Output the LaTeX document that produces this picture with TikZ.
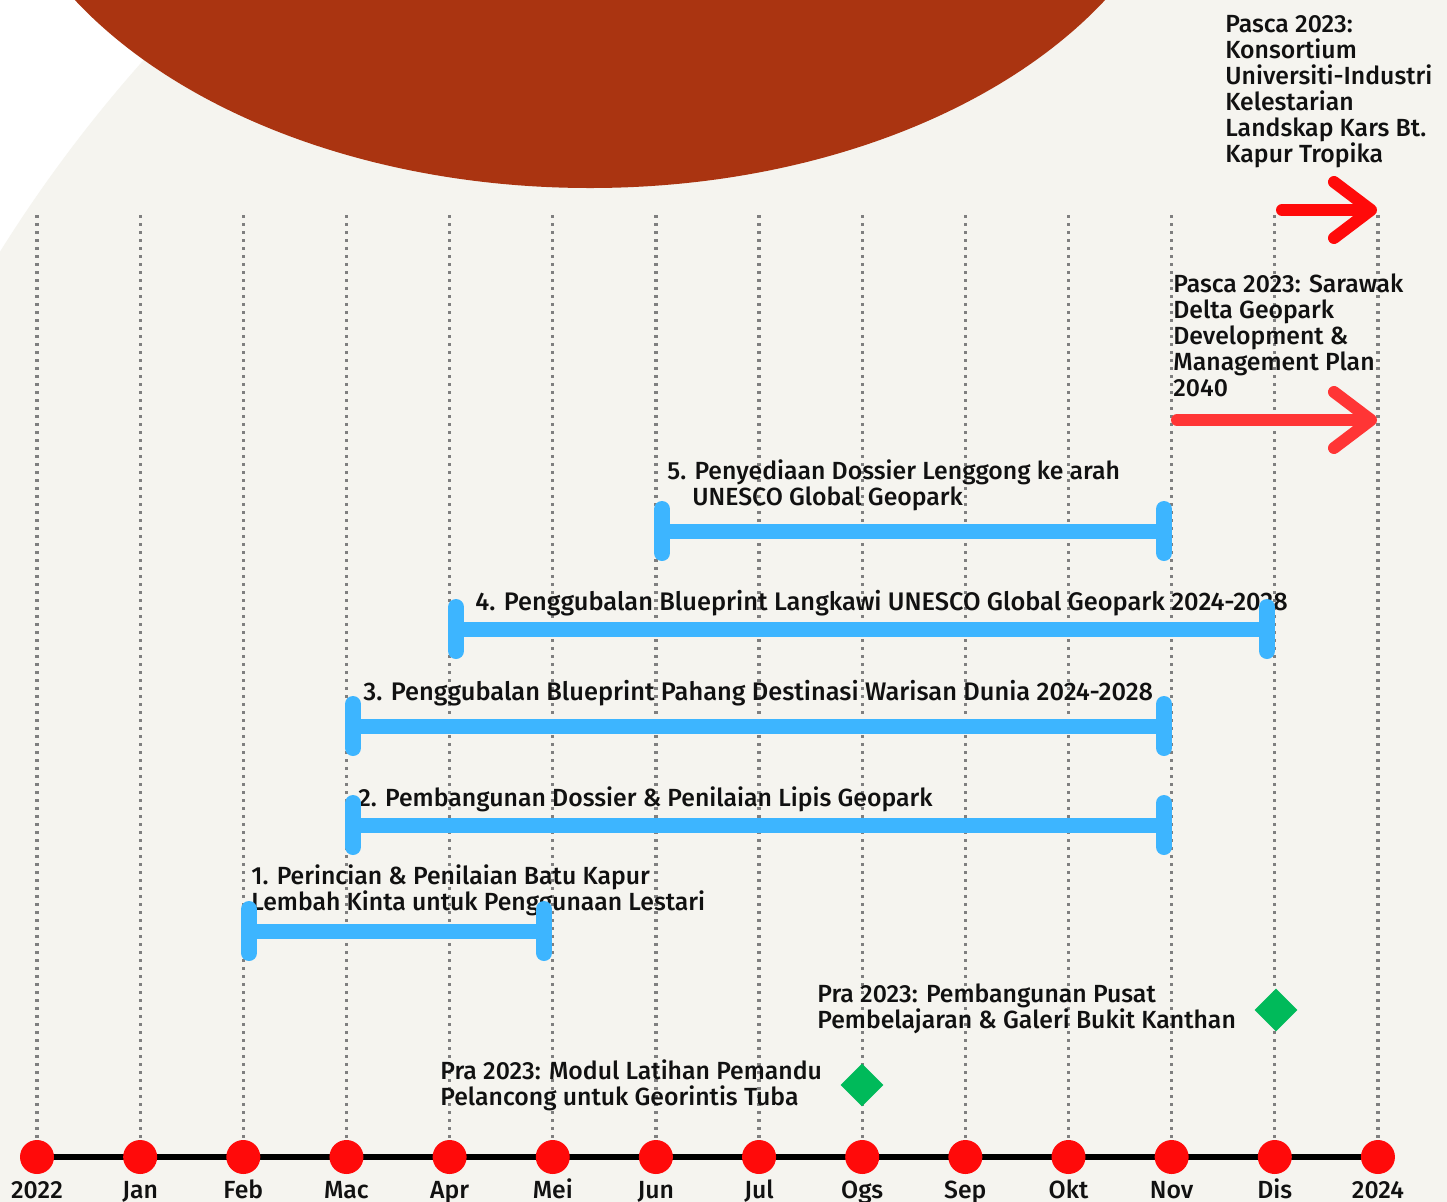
\documentclass[tikz,border=0pt]{standalone}
\usepackage{fontspec}
\setmainfont{Fira Sans Medium}
\usetikzlibrary{shapes.geometric,arrows.meta,positioning,calc}
\definecolor{rust}{HTML}{AA3411}
\definecolor{cream}{HTML}{F5F4EF}
\definecolor{barblue}{HTML}{3DB5FF}
\definecolor{dotred}{HTML}{FF0A0A}
\definecolor{softred}{HTML}{FF3535}
\definecolor{gemgreen}{HTML}{00BA5A}
\definecolor{gridgray}{HTML}{7F7F7F}
\definecolor{ink}{HTML}{111111}
\pgfdeclarelayer{back}
\pgfdeclarelayer{grid}
\pgfsetlayers{back,grid,main}
\tikzset{
    monthdot/.style={circle, fill=dotred, minimum size=17pt, inner sep=0pt},
    monthlbl/.style={inner sep=0pt, text height=8.6pt, text depth=2.4pt, text=ink, font=\fontsize{12.4}{13}\selectfont},
    gridline/.style={gridgray, line width=1.6pt, dash pattern=on 1.6pt off 2.4pt},
    axis/.style={line width=3pt, black},
    bar/.style={barblue, line width=7.5pt},
    barcap/.style={barblue, line width=8pt, line cap=round},
    gem/.style={diamond, fill=gemgreen, minimum width=21.5pt, minimum height=21.5pt, inner sep=0pt},
    lbl/.style={anchor=north west, inner sep=0pt, align=left, text=ink, font=\fontsize{12.4}{13}\selectfont},
    widelbl/.style={lbl, font=\fontsize{12.7}{13}\selectfont},
    pasca/.style={line width=6pt, line cap=round, -{Straight Barb[length=18.5pt, width=28pt, round]}}
}

\begin{document}
\begin{tikzpicture}[x=0.5pt, y=-0.5pt]

    \useasboundingbox (0,0) rectangle (1447,1201);

    % background shapes
    \begin{pgfonlayer}{back}
        \fill[white] (0,0) rectangle (1447,1201);
        \begin{scope}
            \clip (0,0) rectangle (1447,1201);
            \fill[cream] (1200,1000) circle (1414);
            \fill[rust] (590,-200) ellipse [x radius=601, y radius=388];
        \end{scope}
    \end{pgfonlayer}

    % months on the time axis
    \foreach \mon [count=\i from 0] in {2022,Jan,Feb,Mac,Apr,Mei,Jun,Jul,Ogs,Sep,Okt,Nov,Dis,2024} {
        \node[monthdot] (m\i) at ({37+103.15*\i},1157) {};
        \node[monthlbl, below=3pt of m\i] (l\i) {\mon};
        \coordinate (g\i) at ({37+103.15*\i},215);
    }

    \begin{pgfonlayer}{grid}
        \foreach \i in {0,...,13} \draw[gridline] (g\i) -- (m\i);
        \draw[axis] (m0.center) -- (m13.center);
    \end{pgfonlayer}

    % Pasca 2023
    \node[lbl] (pasca1) at (1225,15) {Pasca 2023:\\Konsortium\\Universiti-Industri\\Kelestarian\\Landskap Kars Bt.\\Kapur Tropika};
    \coordinate (a1s) at (1282,210);
    \coordinate (a1e) at (1377,210);
    \draw[pasca, dotred] (a1s) -- (a1e);

    \node[lbl] (pasca2) at (1173,273) {Pasca 2023: Sarawak\\Delta Geopark\\Development \&\\Management Plan\\2040};
    \coordinate (a2s) at (1177,420);
    \coordinate (a2e) at (1377,420);
    \draw[pasca, softred] (a2s) -- (a2e);

    % task bars
    \node[lbl] (task5) at (667,459) {5. Penyediaan Dossier Lenggong ke arah\\\hphantom{5.\ }UNESCO Global Geopark};
    \coordinate (b5a) at (662,531);
    \coordinate (b5b) at (1164,531);

    \node[widelbl] (task4) at (475,590) {4. Penggubalan Blueprint Langkawi UNESCO Global Geopark 2024-2028};
    \coordinate (b4a) at (456,629);
    \coordinate (b4b) at (1267,629);

    \node[widelbl] (task3) at (363,680) {3. Penggubalan Blueprint Pahang Destinasi Warisan Dunia 2024-2028};
    \coordinate (b3a) at (353,726);
    \coordinate (b3b) at (1164,726);

    \node[lbl] (task2) at (358,786) {2. Pembangunan Dossier \& Penilaian Lipis Geopark};
    \coordinate (b2a) at (353,825);
    \coordinate (b2b) at (1164,825);

    \node[lbl] (task1) at (251,864) {1. Perincian \& Penilaian Batu Kapur\\Lembah Kinta untuk Penggunaan Lestari};
    \coordinate (b1a) at (249,931);
    \coordinate (b1b) at (544,931);

    \foreach \b in {1,...,5} {
        \draw[bar] (b\b a) -- (b\b b);
        \draw[barcap] ($(b\b a)+(0,-22)$) -- ($(b\b a)+(0,22)$);
        \draw[barcap] ($(b\b b)+(0,-22)$) -- ($(b\b b)+(0,22)$);
    }

    % Pra 2023
    \node[lbl] (pra2) at (817,983) {Pra 2023: Pembangunan Pusat\\Pembelajaran \& Galeri Bukit Kanthan};
    \node[gem] (d2) at (1276,1010) {};

    \node[lbl] (pra1) at (440,1059) {Pra 2023: Modul Latihan Pemandu\\Pelancong untuk Georintis Tuba};
    \node[gem] (d1) at (862,1085) {};

\end{tikzpicture}
\end{document}
